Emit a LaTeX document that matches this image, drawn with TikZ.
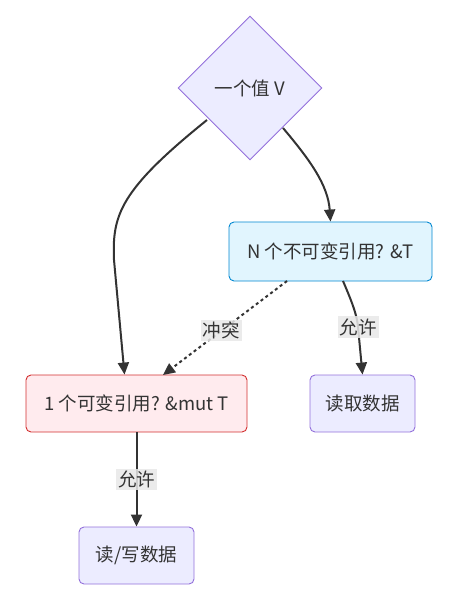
\documentclass[tikz,border=0pt]{standalone}
\usepackage{fontspec}
\setmainfont{Noto Sans CJK SC}
\usetikzlibrary{shapes.geometric,arrows.meta}
\definecolor{txt}{HTML}{333333}
\definecolor{purplefill}{HTML}{ECECFF}
\definecolor{purpleline}{HTML}{9370DB}
\definecolor{bluefill}{HTML}{E1F5FE}
\definecolor{blueline}{HTML}{0288D1}
\definecolor{redfill}{HTML}{FFEBEE}
\definecolor{redline}{HTML}{D32F2F}
\definecolor{lblbg}{HTML}{E8E8E8}
\tikzset{
  every node/.style={text=txt, font=\fontsize{18.5}{21}\selectfont},
  boxp/.style={draw=purpleline, fill=purplefill, rounded corners=5pt, line width=0.9pt, inner sep=0pt},
  boxb/.style={draw=blueline, fill=bluefill, rounded corners=5pt, line width=0.9pt, inner sep=0pt},
  boxr/.style={draw=redline, fill=redfill, rounded corners=5pt, line width=0.9pt, inner sep=0pt},
  dia/.style={diamond, draw=purpleline, fill=purplefill, line width=0.9pt, minimum width=144pt, minimum height=144pt, inner sep=0pt},
  conn/.style={draw=txt, line width=2pt, -{Triangle[length=12pt,width=11pt]}},
  lbl/.style={fill=lblbg, fill opacity=0.85, text opacity=1, inner sep=2pt}
}
\begin{document}
\begin{tikzpicture}[x=1pt,y=-1pt]
\useasboundingbox (0,0) rectangle (472,601);
\node[dia] (v) at (250,88) {一个值 V};
\node[boxb, minimum width=203pt, minimum height=59pt] (n) at (330.5,251.5) {N 个不可变引用? \&T};
\node[boxr, minimum width=221pt, minimum height=57pt] (m) at (136.5,403.5) {1 个可变引用? \&mut T};
\node[boxp, minimum width=105pt, minimum height=57pt] (r) at (362.5,403.5) {读取数据};
\node[boxp, minimum width=115pt, minimum height=57pt] (w) at (136.5,555.5) {读/写数据};
\coordinate (vl) at (207,120);
\coordinate (vr) at (283,128);
\draw[conn] (vl) .. controls (120,190) and (112,215) .. (114,260) -- ([xshift=-12pt]m.north);
\draw[conn] (vr) .. controls (310,160) and (328,185) .. (n.north);
\coordinate (nl) at (287,281);
\coordinate (ml) at (163,375);
\draw[conn, dash pattern=on 3pt off 3pt] (nl) -- node[lbl, pos=0.53] {冲突} (ml);
\coordinate (nr) at (343,281);
\coordinate (rm) at (358,327);
\draw[conn] (nr) .. controls (352,302) and (357,315) .. (rm) node[lbl] {允许} -- (r.north);
\draw[conn] (m.south) -- node[lbl] {允许} (w.north);
\end{tikzpicture}
\end{document}
